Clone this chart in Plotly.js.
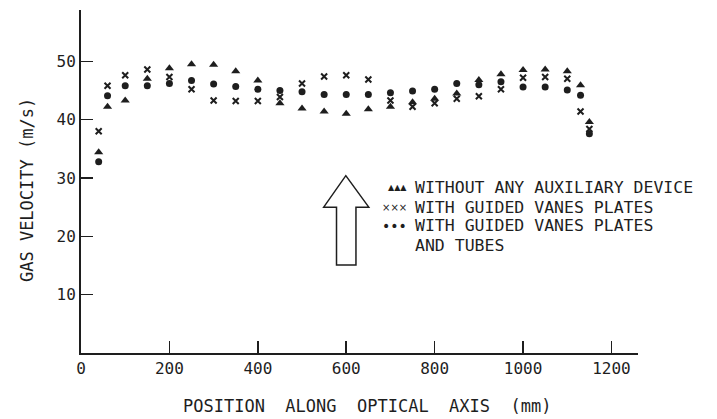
<!DOCTYPE html>
<html>
<head>
<meta charset="utf-8">
<script src="https://cdn.plot.ly/plotly-3.0.1.min.js"></script>
<style>html,body{margin:0;padding:0;background:#fff;}#chart{width:717px;height:419px;}</style>
</head>
<body>
<div id="chart"></div>
<script>
// Positions along optical axis (mm)
const positions = [40, 60, 100, 150, 200, 250, 300, 350, 400, 450, 500, 550, 600, 650, 700, 750, 800, 850, 900, 950, 1000, 1050, 1100, 1130, 1150];
// Gas velocity (m/s)
const withoutDevice = [34.4, 42.2, 43.3, 47.0, 48.8, 49.5, 49.4, 48.3, 46.7, 42.8, 41.9, 41.4, 41.0, 41.8, 42.2, 43.0, 43.6, 44.5, 46.8, 47.8, 48.5, 48.6, 48.3, 45.9, 39.6];
const guidedVanes = [38.0, 45.8, 47.6, 48.6, 47.3, 45.2, 43.3, 43.2, 43.2, 43.9, 46.2, 47.4, 47.6, 46.9, 43.3, 42.2, 42.8, 43.6, 44.0, 45.2, 47.2, 47.3, 47.0, 41.4, 38.4];
const vanesAndTubes = [32.8, 44.1, 45.8, 45.8, 46.2, 46.7, 46.1, 45.7, 45.2, 45.0, 44.8, 44.3, 44.3, 44.3, 44.6, 44.9, 45.2, 46.2, 46.0, 46.5, 45.6, 45.6, 45.1, 44.2, 37.6];
const seriesNames = ["WITHOUT ANY AUXILIARY DEVICE", "WITH GUIDED VANES PLATES", "WITH GUIDED VANES PLATES", "AND TUBES"];
const xTicks = [0, 200, 400, 600, 800, 1000, 1200];
const yTicks = [10, 20, 30, 40, 50];
const xTitle = 'POSITION \u2009ALONG \u2009OPTICAL \u2009AXIS \u2009(mm)';
const yTitle = 'GAS VELOCITY (m/s)';

const ink = '#1e1e1e';
const mono = '"DejaVu Sans Mono", "Liberation Mono", monospace';

const traces = [
  {x: positions, y: withoutDevice, mode: 'markers', type: 'scatter', name: seriesNames[0],
   marker: {symbol: 'triangle-up', size: 8, color: ink}},
  {x: positions, y: guidedVanes, mode: 'markers', type: 'scatter', name: seriesNames[1],
   marker: {symbol: 'x-thin-open', size: 6, color: ink, line: {width: 2, color: ink}}},
  {x: positions, y: vanesAndTubes, mode: 'markers', type: 'scatter', name: seriesNames[2] + ' ' + seriesNames[3],
   marker: {symbol: 'circle', size: 7, color: ink}}
];

const legendGlyphs = ['\u25B2\u25B2\u25B2', '\u00D7\u00D7\u00D7', '\u2022\u2022\u2022'];
const glyphSizes = [8, 10, 14];
const legendY = [28.3, 25.0, 21.8, 18.4];
const annotations = [];
for (let i = 0; i < 4; i++) {
  annotations.push({x: 751, y: legendY[i], xref: 'x', yref: 'y', text: seriesNames[i], showarrow: false,
    xanchor: 'left', yanchor: 'middle', align: 'left',
    font: {family: mono, size: 16.5, color: ink}});
}
for (let i = 0; i < 3; i++) {
  annotations.push({x: 742, y: legendY[i], xref: 'x', yref: 'y', text: legendGlyphs[i], showarrow: false,
    xanchor: 'right', yanchor: 'middle', font: {family: '"DejaVu Sans", sans-serif', size: glyphSizes[i], color: ink}});
}
annotations.push({x: 0.5135, y: -0.1545, xref: 'paper', yref: 'paper', text: xTitle, showarrow: false,
  xanchor: 'center', yanchor: 'middle', font: {family: mono, size: 17, color: ink}});
annotations.push({x: -0.097, y: 0.475, xref: 'paper', yref: 'paper', text: yTitle, showarrow: false, textangle: -90,
  xanchor: 'center', yanchor: 'middle', font: {family: mono, size: 17, color: ink}});

const layout = {
  width: 717, height: 419,
  margin: {l: 81, r: 79, t: 10, b: 66},
  paper_bgcolor: '#fff', plot_bgcolor: '#fff',
  showlegend: false,
  font: {family: mono, color: ink},
  xaxis: {
    range: [0, 1260], tickvals: xTicks, ticktext: xTicks.map(String),
    ticks: 'inside', ticklen: 12, tickwidth: 1.5, tickcolor: ink,
    showline: true, linewidth: 2, linecolor: ink, showgrid: false, zeroline: false,
    tickfont: {family: mono, size: 16, color: ink}
  },
  yaxis: {
    range: [0, 58.8], tickvals: yTicks, ticktext: yTicks.map(String),
    ticks: 'inside', ticklen: 12, tickwidth: 1.5, tickcolor: ink,
    showline: true, linewidth: 2, linecolor: ink, showgrid: false, zeroline: false,
    tickfont: {family: mono, size: 16, color: ink}
  },
  shapes: [{
    type: 'path', xref: 'x', yref: 'y',
    path: 'M 599 30.4 L 651 25.0 L 622 25.0 L 622 15.1 L 578 15.1 L 578 25.0 L 549 25.0 Z',
    line: {color: ink, width: 1.5}, fillcolor: 'rgba(0,0,0,0)'
  }],
  annotations: annotations
};

Plotly.newPlot('chart', traces, layout, {displayModeBar: false, staticPlot: true});
</script>
</body>
</html>
